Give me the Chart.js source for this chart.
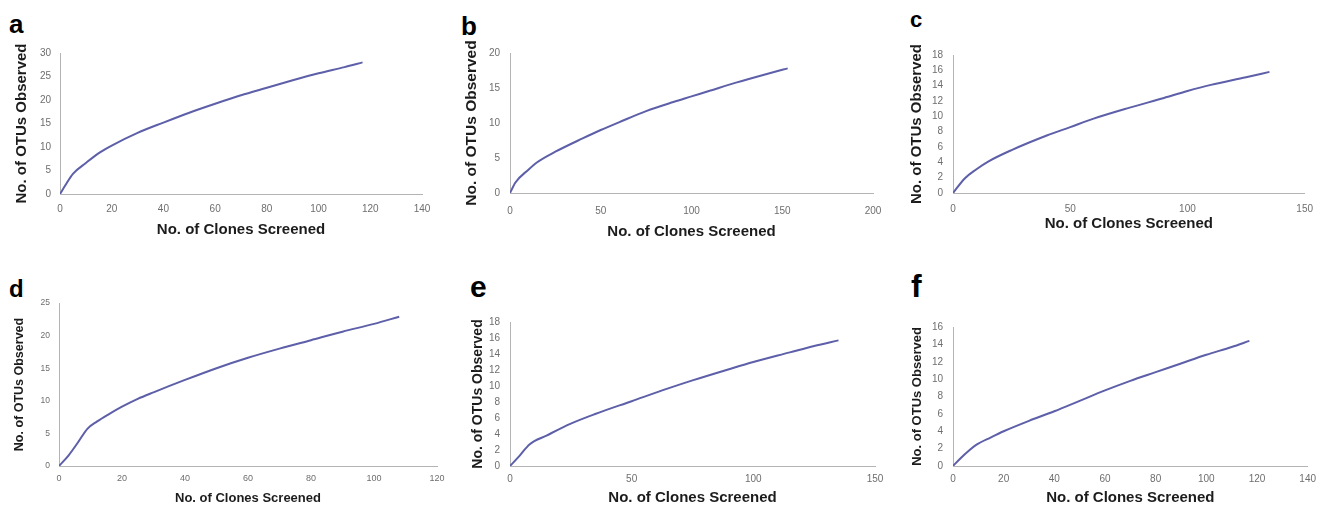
<!DOCTYPE html>
<html>
<head>
<meta charset="utf-8">
<script src="https://cdn.jsdelivr.net/npm/chart.js@4"></script>
<style>
body { margin: 0; background: #fff; width: 1323px; height: 505px; position: relative; overflow: hidden; font-family: "Liberation Sans", Arial, sans-serif; }
canvas { position: absolute; }
.lbl { position: absolute; font-weight: bold; line-height: 1; color: #000; }
</style>
</head>
<body>
<div class="lbl" style="left:9px;top:11px;font-size:26px">a</div>
<div class="lbl" style="left:461px;top:13px;font-size:26px">b</div>
<div class="lbl" style="left:910px;top:9px;font-size:22px">c</div>
<div class="lbl" style="left:9px;top:277px;font-size:24px">d</div>
<div class="lbl" style="left:470px;top:272px;font-size:30px">e</div>
<div class="lbl" style="left:911px;top:270px;font-size:32px">f</div>

<canvas id="chartA" width="460" height="252" style="left:0;top:0"></canvas>
<canvas id="chartB" width="460" height="252" style="left:441px;top:0"></canvas>
<canvas id="chartC" width="441" height="252" style="left:882px;top:0"></canvas>
<canvas id="chartD" width="460" height="260" style="left:0;top:252px"></canvas>
<canvas id="chartE" width="460" height="260" style="left:441px;top:252px"></canvas>
<canvas id="chartF" width="441" height="260" style="left:882px;top:252px"></canvas>

<script>
// rarefaction curves (clones screened vs OTUs observed)
const aX = [0, 2, 5, 10, 15, 20, 30, 40, 50, 60, 70, 80, 90, 100, 110, 117];
const aY = [0, 1.8, 4.3, 6.6, 8.7, 10.3, 13.0, 15.2, 17.3, 19.2, 21.0, 22.6, 24.2, 25.7, 27.0, 28.0];

const bX = [0, 3, 10, 15, 25, 40, 50, 60, 75, 90, 100, 110, 125, 140, 150, 153];
const bY = [0, 1.5, 3.3, 4.4, 5.9, 7.8, 9.0, 10.1, 11.7, 13.0, 13.8, 14.6, 15.8, 16.9, 17.6, 17.8];

const cX = [0, 5, 10, 15, 25, 40, 50, 60, 75, 90, 100, 110, 125, 135];
const cY = [0, 1.9, 3.1, 4.1, 5.6, 7.5, 8.6, 9.7, 11.1, 12.4, 13.3, 14.1, 15.1, 15.8];

const dX = [0, 3, 6, 9, 12, 16, 20, 25, 30, 40, 50, 60, 70, 80, 90, 100, 108];
const dY = [0, 1.6, 3.6, 5.7, 6.8, 8.0, 9.1, 10.3, 11.3, 13.2, 15.0, 16.6, 18.0, 19.3, 20.6, 21.8, 22.9];

const eX = [0, 4, 8, 15, 25, 35, 50, 65, 75, 90, 100, 115, 125, 135];
const eY = [0, 1.3, 2.7, 3.8, 5.3, 6.5, 8.1, 9.7, 10.7, 12.1, 13.0, 14.2, 15.0, 15.7];

const fX = [0, 3, 6, 9, 15, 20, 30, 40, 50, 60, 70, 80, 90, 100, 110, 117];
const fY = [0, 0.9, 1.7, 2.4, 3.3, 4.0, 5.2, 6.3, 7.5, 8.7, 9.8, 10.8, 11.8, 12.8, 13.7, 14.4];

// axis ranges: [max, step]
const aXAxis = [140, 20], aYAxis = [30, 5];
const bXAxis = [200, 50], bYAxis = [20, 5];
const cXAxis = [150, 50], cYAxis = [18, 2];
const dXAxis = [120, 20], dYAxis = [25, 5];
const eXAxis = [150, 50], eYAxis = [18, 2];
const fXAxis = [140, 20], fYAxis = [16, 2];

const xTitle = 'No. of Clones Screened';
const yTitle = 'No. of OTUs Observed';
const lineColor = '#5d5fa8';
const axisColor = '#b4b4b4';
const tickColor = '#6e6e6e';
const titleColor = '#1c1c1c';

function makeChart(id, xs, ys, xAxis, yAxis, p) {
    const points = xs.map((x, i) => ({ x: x, y: ys[i] }));
    return new Chart(document.getElementById(id), {
        type: 'scatter',
        data: {
            datasets: [{
                data: points,
                showLine: true,
                borderColor: lineColor,
                borderWidth: 2,
                pointRadius: 0,
                cubicInterpolationMode: 'monotone'
            }]
        },
        options: {
            responsive: false,
            animation: false,
            layout: {
                autoPadding: false,
                padding: { left: 0, top: p.padTop, right: p.padRight, bottom: 0 }
            },
            plugins: { legend: { display: false }, tooltip: { enabled: false } },
            scales: {
                x: {
                    type: 'linear',
                    min: 0,
                    max: xAxis[0],
                    grid: { display: false, drawTicks: false },
                    border: { color: axisColor, width: 1 },
                    ticks: { stepSize: xAxis[1], color: tickColor, padding: p.xTickPad, maxRotation: 0,
                             font: { family: 'Liberation Sans', size: p.xTickSize } },
                    title: { display: true, text: xTitle, color: titleColor,
                             font: { family: 'Liberation Sans', size: p.xTitleSize, weight: 'bold' },
                             padding: { top: 0, bottom: p.xTitlePad } },
                    afterFit: s => { s.height = p.xAxisH; }
                },
                y: {
                    type: 'linear',
                    min: 0,
                    max: yAxis[0],
                    grid: { display: false, drawTicks: false },
                    border: { color: axisColor, width: 1 },
                    ticks: { stepSize: yAxis[1], color: tickColor, padding: p.yTickPad,
                             font: { family: 'Liberation Sans', size: p.yTickSize } },
                    title: { display: true, text: yTitle, color: titleColor,
                             font: { family: 'Liberation Sans', size: p.yTitleSize, weight: 'bold' },
                             padding: { top: p.yTitlePad, bottom: 0 } },
                    afterFit: s => { s.width = p.yAxisW; }
                }
            }
        }
    });
}

makeChart('chartA', aX, aY, aXAxis, aYAxis, { padTop: 53, padRight: 38, xAxisH: 58, yAxisW: 60,
    xTickPad: 9, yTickPad: 9, xTickSize: 10, yTickSize: 10, xTitleSize: 15, yTitleSize: 15, xTitlePad: 13, yTitlePad: 13 });
makeChart('chartB', bX, bY, bXAxis, bYAxis, { padTop: 53, padRight: 28, xAxisH: 59, yAxisW: 69,
    xTickPad: 12, yTickPad: 10, xTickSize: 10, yTickSize: 10, xTitleSize: 15, yTitleSize: 15.5, xTitlePad: 11, yTitlePad: 21 });
makeChart('chartC', cX, cY, cXAxis, cYAxis, { padTop: 55, padRight: 8, xAxisH: 59, yAxisW: 71,
    xTickPad: 10, yTickPad: 10, xTickSize: 10, yTickSize: 10, xTitleSize: 15, yTitleSize: 15, xTitlePad: 19, yTitlePad: 26 });
makeChart('chartD', dX, dY, dXAxis, dYAxis, { padTop: 51, padRight: 23, xAxisH: 46, yAxisW: 59,
    xTickPad: 7, yTickPad: 9, xTickSize: 9, yTickSize: 8.5, xTitleSize: 13, yTitleSize: 12.5, xTitlePad: 6, yTitlePad: 12.5 });
makeChart('chartE', eX, eY, eXAxis, eYAxis, { padTop: 70, padRight: 26, xAxisH: 46, yAxisW: 69,
    xTickPad: 7, yTickPad: 10, xTickSize: 10, yTickSize: 10, xTitleSize: 15, yTitleSize: 14, xTitlePad: 5, yTitlePad: 28.5 });
makeChart('chartF', fX, fY, fXAxis, fYAxis, { padTop: 75, padRight: 11, xAxisH: 46, yAxisW: 71,
    xTickPad: 7, yTickPad: 10, xTickSize: 10, yTickSize: 10, xTitleSize: 15, yTitleSize: 13, xTitlePad: 5, yTitlePad: 28 });
</script>
</body>
</html>
